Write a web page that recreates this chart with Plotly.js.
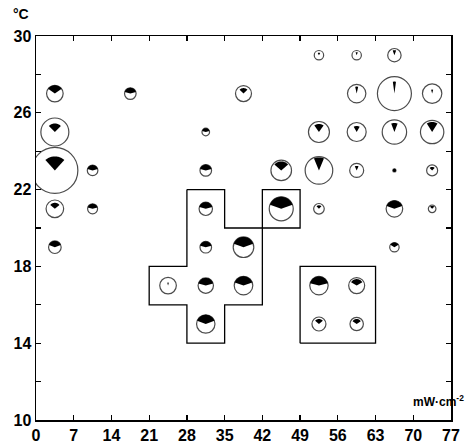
<!DOCTYPE html>
<html>
<head>
<meta charset="utf-8">
<script src="https://cdn.plot.ly/plotly-3.0.1.min.js"></script>
<style>html,body{margin:0;padding:0;background:#fff;}#chart{width:467px;height:448px;}</style>
</head>
<body>
<div id="chart"></div>
<script>
// Light intensity (mW·cm-2, class centre) and temperature (°C) of each sample
const lightX = [3.5,3.5,3.5,3.5,3.5, 10.5,10.5, 17.5, 24.5,
  31.5,31.5,31.5,31.5,31.5,31.5, 38.5,38.5,38.5, 45.5,45.5,
  52.5,52.5,52.5,52.5,52.5,52.5, 59.5,59.5,59.5,59.5,59.5,59.5,
  66.5,66.5,66.5,66.5,66.5,66.5, 73.5,73.5,73.5,73.5];
const tempY = [27,25,23,21,19, 23,21, 27, 17,
  25,23,21,19,17,15, 27,19,17, 23,21,
  29,25,23,21,17,15, 29,27,25,23,17,15,
  29,27,25,23,21,19, 27,25,23,21];
// circle size (relative value), reach of the black sector, and sector angle (degrees)
const circleSize = [8.3,14,23,8.8,6.3, 5.3,5, 5.8, 8.3,
  3.8,5.8,6.7,5.8,7.7,9.2, 8,10.3,9.3, 10.3,12,
  4.7,10.5,13.8,5.3,9.2,7, 4.7,9.2,9.5,7,8,6.7,
  6.7,17,12.2,1.6,8.3,4.7, 9.7,11.7,5.5,3.8];
const sectorReach = [8.3,8.5,14,6,6.3, 5.3,5, 5.8, 3,
  3.8,5.8,6.7,5.8,7.7,9.2, 5.5,10.3,9.3, 9,12,
  2.5,8,13,3.5,9.2,5, 3,7,6,4.5,6.5,5,
  5,12,9,1.6,8.3,4.7, 4,10,3.5,3];
const sectorAngle = [110,90,85,100,140, 150,150, 150, 30,
  150,150,150,150,150,140, 90,140,140, 100,140,
  60,70,45,90,150,100, 40,25,60,50,120,110,
  40,15,42,360,140,120, 30,64,90,90];

// outlined groups
const crossX = [28,35,35,42,42,35,35,28,28,21,21,28,28];
const crossY = [22,22,20,20,16,16,14,14,16,16,18,18,22];
const boxAX = [42,49,49,42,42];
const boxAY = [20,20,22,22,20];
const boxBX = [49,63,63,49,49];
const boxBY = [14,14,18,18,14];

const xTicks = [0,7,14,21,28,35,42,49,56,63,70,77];
const yTicks = [10,14,18,22,26,30];

const SCALE = 1; // size units -> pixels

function sectorPath(r, ang) {
  const half = Math.min(ang, 360) / 2 * Math.PI / 180;
  const n = 30;
  let d = ang >= 360 ? '' : 'M0,0';
  for (let i = 0; i <= n; i++) {
    const a = -half + 2 * half * i / n;
    const px = (r * Math.sin(a)).toFixed(2), py = (r * Math.cos(a)).toFixed(2);
    d += (d === '' ? 'M' : ' L') + px + ',' + py;
  }
  return d + ' Z';
}

const shapes = lightX.map((x, i) => ({
  type: 'path', xref: 'x', yref: 'y', xsizemode: 'pixel', ysizemode: 'pixel',
  xanchor: x, yanchor: tempY[i], path: sectorPath(sectorReach[i] * SCALE, sectorAngle[i]),
  fillcolor: '#000', line: {width: 0}, layer: 'above'
}));

const lineStyle = {color: '#000', width: 1.3};
const traces = [
  {x: crossX, y: crossY, mode: 'lines', line: lineStyle, hoverinfo: 'skip'},
  {x: boxAX, y: boxAY, mode: 'lines', line: lineStyle, hoverinfo: 'skip'},
  {x: boxBX, y: boxBY, mode: 'lines', line: lineStyle, hoverinfo: 'skip'},
  {x: lightX, y: tempY, mode: 'markers',
   marker: {symbol: 'circle', size: circleSize.map(s => 2 * s * SCALE), color: '#fff',
            line: {color: '#000', width: 1.2}}}
];

const tickFont = {family: 'Liberation Sans Narrow, Liberation Sans, Arial, sans-serif', size: 16, color: '#000', weight: 'bold'};
const layout = {
  width: 467, height: 448,
  margin: {l: 36, r: 16, t: 36, b: 28, pad: 0},
  paper_bgcolor: '#fff', plot_bgcolor: '#fff',
  showlegend: false,
  xaxis: {range: [0, 77], tickvals: xTicks, ticktext: xTicks.map(String), ticks: 'inside', ticklen: 5, tickwidth: 1.2,
          tickcolor: '#000', showline: true, linecolor: '#000', linewidth: 1.5, mirror: 'ticks',
          showgrid: false, zeroline: false, tickfont: tickFont, fixedrange: true},
  yaxis: {range: [10, 30], tickvals: yTicks, ticktext: yTicks.map(String), ticks: 'inside', ticklen: 5, tickwidth: 1.2,
          tickcolor: '#000', showline: true, linecolor: '#000', linewidth: 1.5, mirror: 'ticks',
          minor: {tick0: 10, dtick: 2, ticks: 'inside', ticklen: 5, tickwidth: 1.2, tickcolor: '#000', showgrid: false},
          showgrid: false, zeroline: false, tickfont: tickFont, fixedrange: true},
  shapes: shapes,
  annotations: [
    {text: '°C', xref: 'paper', yref: 'paper', x: -0.037, y: 1.058, xanchor: 'center', yanchor: 'middle',
     showarrow: false, font: {family: 'Liberation Sans, Arial, sans-serif', size: 14, color: '#000', weight: 'bold'}},
    {text: 'mW·cm<sup>-2</sup>', xref: 'paper', yref: 'paper', x: 1.035, y: 0.05, xanchor: 'right', yanchor: 'middle',
     showarrow: false, font: {family: 'Liberation Sans, Arial, sans-serif', size: 12, color: '#000', weight: 'bold'}}
  ]
};

Plotly.newPlot('chart', traces, layout, {displayModeBar: false, staticPlot: true});
</script>
</body>
</html>
